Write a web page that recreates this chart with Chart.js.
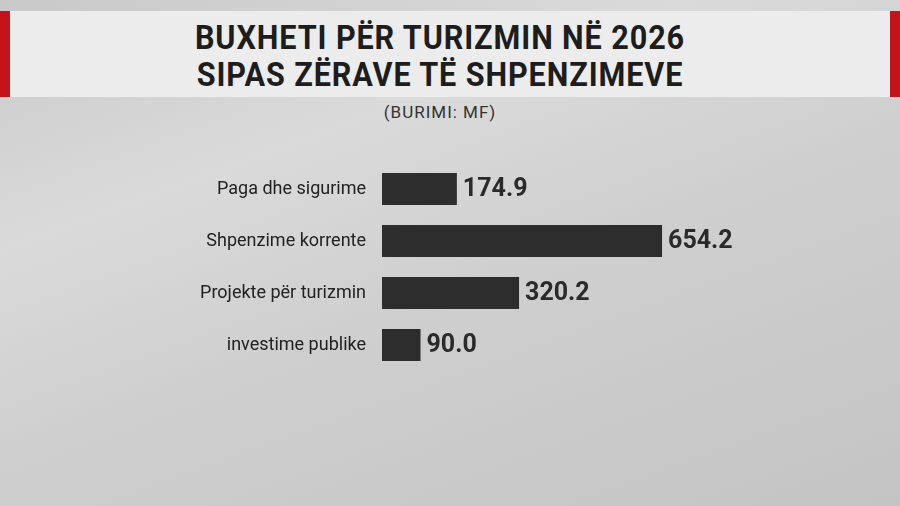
<!DOCTYPE html>
<html lang="en">
<head>
  <meta charset="UTF-8">
  <title>Buxheti për turizmin 2026</title>
  <script src="https://cdn.jsdelivr.net/npm/chart.js"></script>
  <style>
    body { margin:0; width:900px; height:506px; overflow:hidden; font-family: Roboto, sans-serif;
      background: linear-gradient(160deg, #c9c9c9 0%, #dadada 30%, #cfcfcf 55%, #c4c4c4 100%); position:relative; }
    .band { position:absolute; left:0; top:11px; width:900px; height:86px; background:#ececec; }
    .band:before, .band:after { content:''; position:absolute; top:0; width:10px; height:86px; background:#c4141b; }
    .band:before { left:0; } .band:after { right:0; }
    .title { position:absolute; left:0; width:880px; top:19px; text-align:center; font-weight:700; font-size:34px;
      line-height:37px; color:#1d1d1d; letter-spacing:1px; transform:scaleX(0.9); }
    .src { position:absolute; left:0; width:880px; top:102px; text-align:center; font-size:17px; color:#333; letter-spacing:1px; }
    canvas { position:absolute; left:0; top:0; }
  </style>
</head>
<body>
  <div class="band"></div>
  <div class="title">BUXHETI PËR TURIZMIN NË 2026<br>SIPAS ZËRAVE TË SHPENZIMEVE</div>
  <div class="src">(BURIMI: MF)</div>
  <canvas id="chart" width="900" height="506"></canvas>
  <script>
    const categories = ['Paga dhe sigurime', 'Shpenzime korrente', 'Projekte për turizmin', 'investime publike'];
    const values = [174.9, 654.2, 320.2, 90.0];

    // value labels at end of bars
    const valueLabels = {
      id: 'valueLabels',
      afterDatasetsDraw(chart) {
        const ctx = chart.ctx;
        ctx.save();
        ctx.font = 'bold 25px Roboto';
        ctx.fillStyle = '#2a2a2a';
        ctx.textBaseline = 'middle';
        chart.getDatasetMeta(0).data.forEach((bar, i) => {
          ctx.fillText(values[i].toFixed(1), bar.x + 6, bar.y + 1);
        });
        ctx.restore();
      }
    };

    new Chart(document.getElementById('chart'), {
      type: 'bar',
      data: {
        labels: categories,
        datasets: [{ data: values, backgroundColor: '#2d2d2d', barPercentage: 0.62, categoryPercentage: 1 }]
      },
      options: {
        indexAxis: 'y',
        responsive: false,
        animation: false,
        layout: { padding: { left: 0, right: 18, top: 163, bottom: 135 } },
        plugins: { legend: { display: false }, tooltip: { enabled: false } },
        scales: {
          x: { display: false, min: 0, max: 1168 },
          y: {
            grid: { display: false }, border: { display: false },
            ticks: { color: '#222', font: { size: 18, family: 'Roboto' }, padding: 8 },
            afterFit: s => { s.width = 382; }
          }
        }
      },
      plugins: [valueLabels]
    });
  </script>
</body>
</html>
